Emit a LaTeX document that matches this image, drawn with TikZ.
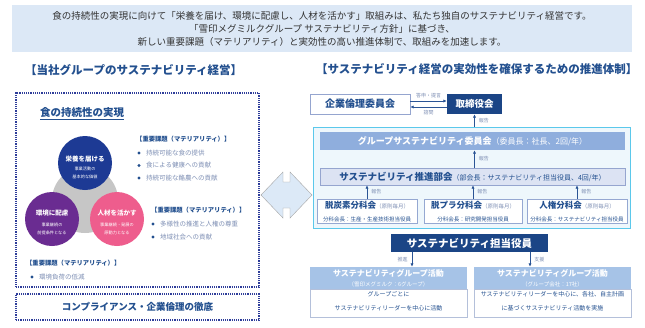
\documentclass[tikz,border=0pt]{standalone}
\usepackage{fontspec}
\setmainfont{Noto Sans CJK JP}
\usetikzlibrary{arrows.meta}

\definecolor{hdblue}{HTML}{23508F}
\definecolor{navy}{HTML}{1B4586}
\definecolor{dotblue}{HTML}{2E3D9A}
\definecolor{itemgray}{HTML}{7F90B5}
\definecolor{bannerfill}{HTML}{DCE8F6}
\definecolor{blueC}{HTML}{1D3A94}
\definecolor{purpleC}{HTML}{6A2C91}
\definecolor{pinkC}{HTML}{EE5D8D}
\definecolor{arrowfill}{HTML}{DCE9F7}
\definecolor{arrowblue}{HTML}{2A5495}
\definecolor{frameline}{HTML}{5BC8EB}
\definecolor{framefill}{HTML}{EEF7FC}
\definecolor{cmtfill}{HTML}{8FAEDD}
\definecolor{promofill}{HTML}{DCE3F3}
\definecolor{promoline}{HTML}{95A5CF}
\definecolor{subline}{HTML}{95A8D2}
\definecolor{grpfill}{HTML}{A6C3E7}
\definecolor{grpline}{HTML}{B4C0DA}

\newcommand\fsz[1]{\fontsize{#1}{#1}\selectfont}

\begin{document}
\begin{tikzpicture}[x=1pt,y=-1pt,
  heading/.style={font=\bfseries\fsz{11.5}, text=hdblue, inner sep=0pt},
  matl/.style={anchor=west, font=\bfseries\fsz{6.3}, text=hdblue, inner sep=0pt},
  item/.style={anchor=west, font=\fsz{6.5}, text=itemgray, inner sep=0pt},
  bullet/.style={circle, fill=hdblue, inner sep=0pt, minimum size=3.2pt},
  pillar/.style={circle, inner sep=0pt, minimum size=54pt},
  ptitle/.style={font=\bfseries\fsz{6.5}, text=white, inner sep=0pt},
  psub/.style={font=\fontsize{4.2}{8}\selectfont, text=white, align=center, inner sep=0pt},
  dotbox/.style={draw=dotblue, line width=1.2pt, densely dotted, minimum width=243pt},
  report/.style={-{Latex[length=3.5pt,width=3.2pt]}, arrowblue, line width=0.8pt},
  tag/.style={font=\fsz{5}, text=itemgray, inner sep=0pt},
  darkbox/.style={fill=navy, text=white, font=\bfseries\fsz{10.5}},
  subbox/.style={draw=subline, fill=white, minimum height=24pt},
  subhead/.style={font=\bfseries\fsz{8.5}, text=hdblue, inner sep=0pt},
  subnote/.style={font=\fsz{5.5}, text=hdblue, inner sep=0pt},
  grphead/.style={fill=grpfill, minimum width=157pt, minimum height=22pt},
  grpbody/.style={draw=grpline, fill=white, minimum width=157pt, minimum height=28pt},
  grptext/.style={font=\fsz{6}, text=hdblue, inner sep=0pt}]

  \fill[white] (0,0) rectangle (645,327);
  \useasboundingbox (0,0) rectangle (645,327);

  % banner
  \node[fill=bannerfill, minimum width=620pt, minimum height=47pt, align=center,
        font=\fontsize{9.5}{13}\selectfont, text=black!80] (banner) at (322,28.5)
    {食の持続性の実現に向けて「栄養を届け、環境に配慮し、人材を活かす」取組みは、私たち独自のサステナビリティ経営です。\\
     「雪印メグミルクグループ サステナビリティ方針」に基づき、\\
     新しい重要課題（マテリアリティ）と実効性の高い推進体制で、取組みを加速します。};

  % left side
  \node[heading, anchor=west] (lhead) at (25,70) {【当社グループのサステナビリティ経営】};
  \node[dotbox, minimum height=194pt] (core) at (137.5,190) {};
  \node[dotbox, minimum height=26pt, font=\bfseries\fsz{9.5}, text=hdblue] (comply) at (137.5,307)
    {コンプライアンス・企業倫理の徹底};
  \node[anchor=west, font=\bfseries\fsz{10.5}, text=hdblue, inner sep=0pt] (food) at (40,114)
    {\underline{食の持続性の実現}};

  \fill[gray!45] (85,200) circle (33);
  \node[pillar, fill=blueC] (nourish) at (85,163) {};
  \node[pillar, fill=purpleC] (planet) at (52,219) {};
  \node[pillar, fill=pinkC] (people) at (117,219) {};
  \node[ptitle] (nourish-t) at (85,159) {栄養を届ける};
  \node[psub] (nourish-s) at (85,173) {事業活動の\\基本的な価値};
  \node[ptitle] (planet-t) at (52,213) {環境に配慮};
  \node[psub] (planet-s) at (52,229) {事業継続の\\前提条件となる};
  \node[ptitle] (people-t) at (117,213) {人材を活かす};
  \node[psub] (people-s) at (117,229) {事業継続・発展の\\原動力となる};

  \node[matl] (m1) at (136,139) {【重要課題（マテリアリティ）】};
  \foreach \y/\t [count=\i] in {153/持続可能な食の提供, 165.5/食による健康への貢献, 178/持続可能な酪農への貢献}{
    \node[bullet] (m1b\i) at (139,\y) {};
    \node[item] (m1t\i) at (146,\y) {\t};
  }
  \node[matl] (m2) at (151,210) {【重要課題（マテリアリティ）】};
  \foreach \y/\t [count=\i] in {224/多様性の推進と人権の尊重, 237/地域社会への貢献}{
    \node[bullet] (m2b\i) at (153,\y) {};
    \node[item] (m2t\i) at (160,\y) {\t};
  }
  \node[matl] (m3) at (26,263) {【重要課題（マテリアリティ）】};
  \node[bullet] (m3b1) at (32,277) {};
  \node[item] (m3t1) at (39,277) {環境負荷の低減};

  % double arrow
  \draw[gray!70, fill=arrowfill] (261,195) -- (283,172) -- (283,182) -- (290,182) -- (290,172)
    -- (312,195) -- (290,218) -- (290,208) -- (283,208) -- (283,218) -- cycle;

  % right side
  \node[heading, anchor=west] (rhead) at (316,69) {【サステナビリティ経営の実効性を確保するための推進体制】};
  \node[draw=promoline, fill=white, minimum width=100pt, minimum height=20pt,
        font=\bfseries\fsz{10}, text=hdblue] (ethics) at (360,104) {企業倫理委員会};
  \node[darkbox, minimum width=55pt, minimum height=20pt, font=\bfseries\fsz{9.5}] (board) at (474.5,104) {取締役会};
  \draw[report] ([yshift=3pt]ethics.east) -- ([yshift=3pt]board.west)
    node[tag, midway, above=3pt] {答申・提言};
  \draw[report] ([yshift=-3pt]board.west) -- ([yshift=-3pt]ethics.east)
    node[tag, midway, below=3pt] {諮問};

  \node[draw=frameline, fill=framefill, line width=0.8pt, minimum width=317pt, minimum height=101pt] (frame) at (471.5,177.5) {};
  \node[fill=cmtfill, minimum width=305pt, minimum height=18pt, text=white] (cmt) at (472.5,141)
    {{\bfseries\fsz{9}グループサステナビリティ委員会}{\fsz{8}（委員長：社長、2回/年）}};
  \node[draw=promoline, fill=promofill, minimum width=305pt, minimum height=17pt, text=hdblue] (promo) at (472.5,176.5)
    {{\bfseries\fsz{9.5}サステナビリティ推進部会}{\fsz{7}（部会長：サステナビリティ担当役員、4回/年）}};

  \draw[report] (board.south |- frame.north) -- (board.south) node[tag, pos=0.45, right=4pt] {報告};
  \draw[report] (promo.north -| board.south) -- (cmt.south -| board.south) node[tag, midway, right=4pt] {報告};

  \node[subbox, minimum width=100pt] (decarb) at (367,211) {};
  \node[subbox, minimum width=98pt] (plastic) at (473,211) {};
  \node[subbox, minimum width=100pt] (rights) at (577,211) {};
  \node[subhead] (decarb-t) at ([yshift=6pt]decarb.center) {脱炭素分科会{\fsz{5.5}\mdseries\color{itemgray}（原則毎月）}};
  \node[subnote] (decarb-n) at ([yshift=-8pt]decarb.center) {分科会長：生産・生産技術担当役員};
  \node[subhead] (plastic-t) at ([yshift=6pt]plastic.center) {脱プラ分科会{\fsz{5.5}\mdseries\color{itemgray}（原則毎月）}};
  \node[subnote] (plastic-n) at ([yshift=-8pt]plastic.center) {分科会長：研究開発担当役員};
  \node[subhead] (rights-t) at ([yshift=6pt]rights.center) {人権分科会{\fsz{5.5}\mdseries\color{itemgray}（原則毎月）}};
  \node[subnote] (rights-n) at ([yshift=-8pt]rights.center) {分科会長：サステナビリティ担当役員};
  \foreach \s in {decarb, plastic, rights}
    \draw[report] (\s.north) -- (\s.north |- promo.south) node[tag, midway, right=4pt] {報告};

  \node[darkbox, minimum width=157pt, minimum height=18pt] (officer) at (469.5,243) {サステナビリティ担当役員};

  \node[grphead] (grpA) at (388.5,278) {};
  \node[grpbody] (grpA-b) at (388.5,303) {};
  \node[grphead] (grpB) at (552.5,278) {};
  \node[grpbody] (grpB-b) at (552.5,303) {};
  \node[font=\bfseries\fsz{8}, text=white, inner sep=0pt] (grpA-t) at (388.5,273) {サステナビリティグループ活動};
  \node[font=\fsz{5.5}, text=white, inner sep=0pt] (grpA-s) at (388.5,284) {（雪印メグミルク：6グループ）};
  \node[grptext] (grpA-l1) at (388.5,294.5) {グループごとに};
  \node[grptext] (grpA-l2) at (388.5,308.5) {サステナビリティリーダーを中心に活動};
  \node[font=\bfseries\fsz{8}, text=white, inner sep=0pt] (grpB-t) at (552.5,273) {サステナビリティグループ活動};
  \node[font=\fsz{5.5}, text=white, inner sep=0pt] (grpB-s) at (552.5,284) {（グループ会社：17社）};
  \node[grptext] (grpB-l1) at (552.5,294.5) {サステナビリティリーダーを中心に、各社、自主計画};
  \node[grptext] (grpB-l2) at (552.5,308.5) {に基づくサステナビリティ活動を実施};

  \draw[report] ([xshift=-57.5pt]officer.south) -- ([xshift=-57.5pt]officer.south |- grpA.north)
    node[tag, midway, left=4pt] {推進};
  \draw[report] ([xshift=60.5pt]officer.south) -- ([xshift=60.5pt]officer.south |- grpB.north)
    node[tag, midway, right=4pt] {支援};
\end{tikzpicture}
\end{document}
